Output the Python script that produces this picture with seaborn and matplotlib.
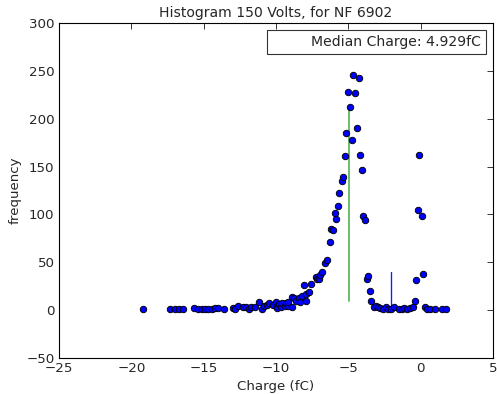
import numpy as np
import pandas as pd
import seaborn as sns
import matplotlib
matplotlib.use("Agg")
import matplotlib.pyplot as plt

# bin centres (fC) and counts
charge = [-19.2, -17.3, -17.0, -16.7, -16.4, -15.7, -15.4, -15.1, -14.9, -14.7,
          -14.4, -14.2, -14.0, -13.6, -13.0, -12.8, -12.6, -12.3, -12.1, -11.9,
          -11.7, -11.45, -11.2, -10.95, -10.8, -10.6, -10.45, -10.2, -10.0, -9.93,
          -9.79, -9.65, -9.56, -9.4, -9.33, -9.19, -9.14, -8.91, -8.87, -8.73,
          -8.64, -8.41, -8.36, -8.22, -8.09, -7.95, -7.9, -7.72, -7.55, -7.26,
          -7.14, -7.0, -6.95, -6.79, -6.61, -6.45, -6.27, -6.17, -6.06, -5.94,
          -5.83, -5.71, -5.62, -5.46, -5.37, -5.23, -5.14, -5.02, -4.86, -4.77,
          -4.65, -4.54, -4.40, -4.28, -4.19, -4.06, -3.99, -3.82, -3.73, -3.64,
          -3.48, -3.41, -3.25, -3.06, -2.92, -2.8, -2.6, -2.42, -2.23, -2.05,
          -1.82, -1.5, -1.31, -1.13, -0.94, -0.74, -0.51, -0.41, -0.35, -0.21,
          -0.09, 0.07, 0.14, 0.28, 0.47, 0.65, 0.97, 1.5, 1.78]
counts = [1, 1, 1, 1, 1, 2, 1, 1, 1, 1,
          1, 2, 2, 1, 2, 1, 4, 3, 3, 1,
          3, 3, 9, 1, 4, 5, 7, 5, 8, 2,
          6, 3, 7, 4, 7, 4, 8, 14, 3, 13,
          10, 13, 8, 15, 26, 17, 10, 19, 27, 35,
          33, 33, 37, 40, 49, 52, 71, 85, 84, 102,
          95, 109, 122, 135, 139, 161, 185, 228, 212, 178,
          246, 227, 190, 243, 162, 146, 98, 94, 33, 36,
          20, 10, 3, 4, 3, 2, 1, 3, 1, 1,
          3, 1, 1, 2, 1, 2, 3, 10, 32, 105,
          162, 98, 38, 3, 1, 1, 1, 1, 1]

median_charge = -4.929
median_line = [10, 212]
marker_pos = -2.05
marker_line = [0, 40]

df = pd.DataFrame({"charge": charge, "frequency": counts})

sns.set_style("white")
plt.rcParams["font.family"] = ["DejaVu Sans"]

fig = plt.figure(figsize=(497 / 80, 394 / 80), dpi=80)
ax = fig.add_axes([0.1187, 0.0914, 0.8733, 0.8502])

sns.scatterplot(data=df, x="charge", y="frequency", color="blue",
                edgecolor="black", linewidth=0.8, s=34, ax=ax, zorder=3)
ax.plot([median_charge, median_charge], median_line, color="#5cb85c", lw=1.6, zorder=2)
ax.plot([marker_pos, marker_pos], marker_line, color="#1a1aff", lw=1.2, zorder=2)
ax.plot([], [], " ", label="Median Charge: 4.929fC")

ax.set_xlim(-25, 5)
ax.set_ylim(-50, 300)
ax.set_xticks(np.arange(-25, 6, 5))
ax.set_yticks(np.arange(-50, 301, 50))
ax.tick_params(direction="in", top=True, right=True, length=5, labelsize=12, pad=4)
for s in ax.spines.values():
    s.set_color("black")
    s.set_linewidth(1)

ax.set_title("Histogram 150 Volts, for NF 6902", fontsize=12.6, pad=5)
ax.set_xlabel("Charge (fC)", fontsize=12)
ax.set_ylabel("frequency", fontsize=12)
leg = ax.legend(loc="upper right", fontsize=12.6, fancybox=False, frameon=True,
                handlelength=2.0, borderpad=0.35)
leg.get_frame().set_edgecolor("black")
leg.get_frame().set_linewidth(1)

fig.savefig("out.png", dpi=80)
